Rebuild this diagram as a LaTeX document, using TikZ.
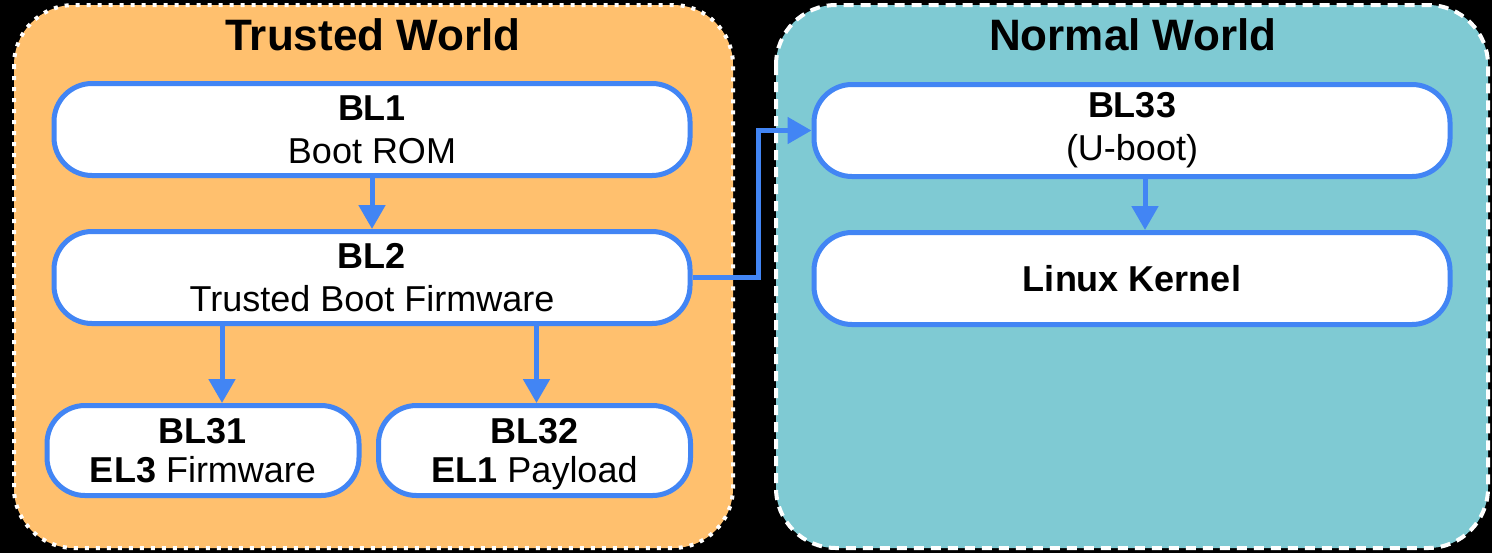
\documentclass[tikz,border=0pt]{standalone}
\usepackage{fontspec}
\setmainfont{Liberation Sans}
\usetikzlibrary{arrows.meta,calc}
\definecolor{trust}{HTML}{FFC06E}
\definecolor{normal}{HTML}{7FCAD3}
\definecolor{edge}{HTML}{4285F4}

\begin{document}
\begin{tikzpicture}[x=0.5pt, y=-0.5pt,
  world/.style={rounded corners=30pt, line width=2pt, draw=white},
  stage/.style={draw=edge, fill=white, line width=2.5pt, rounded corners=19pt,
    minimum width=318pt, minimum height=46pt, align=center, inner sep=0pt,
    font=\fontsize{18}{21.5}\selectfont},
  half/.style={stage, minimum width=156pt, minimum height=45pt,
    font=\fontsize{18}{19.5}\selectfont},
  title/.style={font=\fontsize{22}{26}\selectfont\bfseries},
  flow/.style={draw=edge, line width=2.5pt, -{Triangle[length=12pt,width=13pt]}}]
  \fill[black] (0,0) rectangle (1492,553);
  % the two worlds
  \draw[world, fill=trust, dash pattern=on 2pt off 3.5pt] (14,5) rectangle (733,548);
  \draw[world, fill=normal, dash pattern=on 5pt off 3.5pt] (776,5) rectangle (1488,548);
  \node[title] (trusted) at (373,35) {Trusted World};
  \node[title] (normal) at (1133,35) {Normal World};
  % boot stages
  \node[stage] (bl1) at (372,129.5) {\textbf{BL1}\\Boot ROM};
  \node[stage] (bl2) at (372,277.5) {\textbf{BL2}\\Trusted Boot Firmware};
  \node[half] (bl31) at (203,450.5) {\textbf{BL31}\\\textbf{EL3} Firmware};
  \node[half] (bl32) at (534.5,450.5) {\textbf{BL32}\\\textbf{EL1} Pa\smash{y}load};
  \node[stage] (bl33) at (1132,130.5) {\textbf{BL33}\\(U-boot)};
  \node[stage] (linux) at (1132,278.5) {\textbf{Linux Kernel}};
  \coordinate (in31) at ($(bl31.north)+(9.5pt,0)$);
  \coordinate (in32) at ($(bl32.north)+(1pt,0)$);
  \coordinate (inlx) at ($(linux.north)+(6.5pt,0)$);
  % hand-over arrows
  \draw[flow] (bl1.south) -- (bl2.north);
  \draw[flow] (bl2.south -| in31) -- (in31);
  \draw[flow] (bl2.south -| in32) -- (in32);
  \draw[flow] (bl2.east) -- ++(33pt,0) |- (bl33.west);
  \draw[flow] (bl33.south -| inlx) -- (inlx);
\end{tikzpicture}
\end{document}
